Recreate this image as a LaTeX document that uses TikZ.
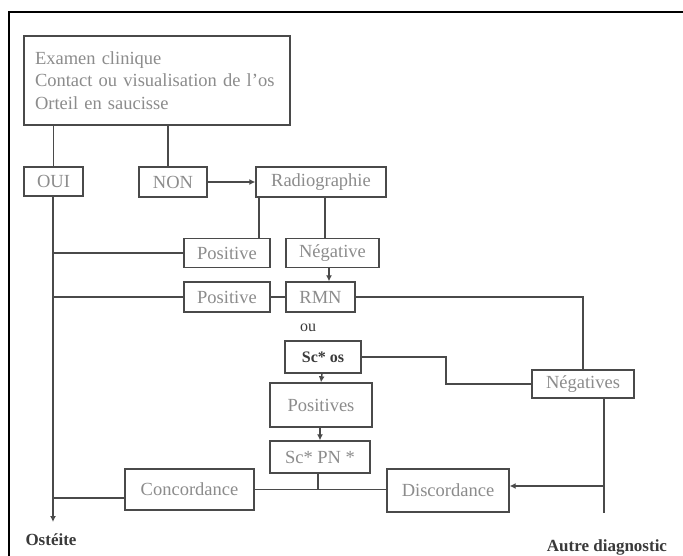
\documentclass[tikz,border=0pt]{standalone}
\usepackage{fontspec}
\setmainfont{Liberation Serif}
\usetikzlibrary{arrows.meta,calc}
\definecolor{edge}{HTML}{4A4A4A}
\definecolor{txt}{HTML}{8C8C8C}
\definecolor{dark}{HTML}{3A3A3A}
\tikzset{
  box/.style={draw=edge, line width=1.4pt, fill=white, inner sep=0pt, text=txt,
    font=\fontsize{18.5}{22}\selectfont},
  conn/.style={draw=edge, line width=1.4pt},
  arr/.style={conn, -{Latex[length=6pt,width=6pt]}},
  lbl/.style={text=dark, font=\bfseries\fontsize{17}{20}\selectfont, inner sep=0pt}
}
\begin{document}
\begin{tikzpicture}[x=1pt,y=-1pt]
\useasboundingbox (0,0) rectangle (683,556);
\fill[white] (0,0) rectangle (683,556);
\draw[black, line width=2.5pt] (9,556) -- (9,12) -- (683,12);

\node[box, minimum width=266pt, minimum height=89pt, text width=244pt, align=left,
      font=\fontsize{18.5}{22.5}\selectfont] (exam) at (157,80.5)
  {Examen clinique\\Contact ou visualisation de l'os\\Orteil en saucisse};
\node[box, minimum width=59pt, minimum height=29pt] (oui) at (53.5,181.5) {OUI};
\node[box, minimum width=68pt, minimum height=30pt] (non) at (173,182) {NON};
\node[box, minimum width=130pt, minimum height=30pt] (radio) at (321,182) {Radiographie};
\node[box, minimum width=86pt, minimum height=29pt] (pos1) at (227,253) {Positive};
\node[box, minimum width=93pt, minimum height=29pt] (neg) at (332.5,253) {Négative};
\node[box, minimum width=86pt, minimum height=30pt] (pos2) at (227,297) {Positive};
\node[box, minimum width=69pt, minimum height=30pt] (rmn) at (320.5,297) {RMN};
\node[text=dark, font=\fontsize{16}{19}\selectfont, inner sep=0pt] (ou) at (308,328) {ou};
\node[box, minimum width=76pt, minimum height=32pt, text=dark, font=\bfseries\fontsize{16}{19}\selectfont] (scos) at (323,357) {Sc* os};
\node[box, minimum width=102pt, minimum height=44pt] (posv) at (321,405) {Positives};
\node[box, minimum width=100pt, minimum height=32pt] (scpn) at (320,457) {Sc* PN *};
\node[box, minimum width=129pt, minimum height=41pt] (conc) at (189.5,489.5) {Concordance};
\node[box, minimum width=122pt, minimum height=43pt] (disc) at (448,490.5) {Discordance};
\node[box, minimum width=102pt, minimum height=28pt] (negs) at (583,384) {Négatives};
\node[lbl] (ost) at (51,540) {Ostéite};
\node[lbl] (autre) at (607,547) {Autre diagnostic};

% coordinates
\coordinate (ostend) at (53,522);
\coordinate (negsturn) at (583,297);
\coordinate (scosA) at (446,357);
\coordinate (scosB) at (446,384);
\coordinate (junc) at (318,489);
\coordinate (rtop) at (604,398);
\coordinate (rbot) at (604,513);
\coordinate (rmid) at (604,486);

% connectors
\draw[conn] (oui.north |- exam.south) -- (oui.north);
\draw[conn] ([xshift=-5pt]non.north |- exam.south) -- ([xshift=-5pt]non.north);
\draw[arr] (non.east) -- (radio.west);
\draw[conn] (oui.south) -- (ostend |- oui.south);
\draw[arr] (ostend |- oui.south) -- (ostend);
\draw[conn] ([xshift=-62pt]radio.south) -- ([xshift=32pt]pos1.north);
\draw[conn] ([xshift=4pt]radio.south) -- ([xshift=-7.5pt]neg.north);
\draw[conn] (pos1.west -| oui) -- (pos1.west);
\draw[conn] (pos2.west -| oui) -- (pos2.west);
\draw[arr] ([xshift=-3.5pt]neg.south) -- ([xshift=8.5pt]rmn.north);
\draw[conn] (pos2.east) -- (rmn.west);
\draw[conn] (rmn.east) -- (negsturn) -- (negs.north);
\draw[arr] ([xshift=-1pt]scos.south) -- ([xshift=0pt]posv.north);
\draw[arr] ([xshift=-1pt]posv.south) -- (scpn.north);
\draw[conn] (scos.east) -- (scosA) -- (scosB) -- (negs.west);
\draw[conn] ([xshift=-2pt]scpn.south) -- (junc);
\draw[conn] (conc.east) -- (disc.west |- conc.east);
\draw[conn] ([yshift=-8.5pt]conc.west -| oui) -- ([yshift=-8.5pt]conc.west);
\draw[conn] (rtop) -- (rbot);
\draw[arr] (rmid) -- (disc.east |- rmid);
\end{tikzpicture}
\end{document}
